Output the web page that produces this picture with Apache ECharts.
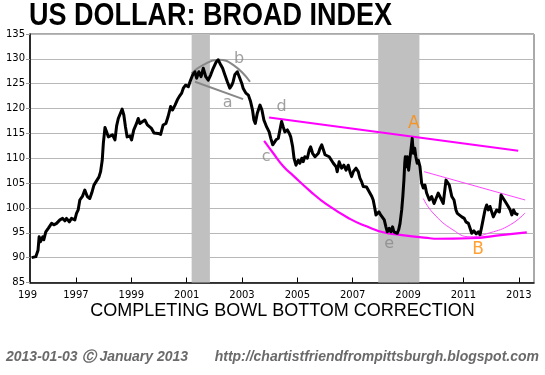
<!DOCTYPE html>
<html><head><meta charset="utf-8">
<script src="https://cdn.jsdelivr.net/npm/echarts@6/dist/echarts.min.js"></script>
<style>html,body{margin:0;padding:0;background:#fff}#c{width:545px;height:375px}</style>
</head><body><div id="c"></div>
<script>
// ---- Data ----
const years = [1995.40,1995.55,1995.63,1995.67,1995.72,1995.80,1995.84,1995.91,1996.00,1996.12,1996.20,1996.30,1996.42,1996.52,1996.60,1996.66,1996.76,1996.84,1996.90,1996.96,
1997.02,1997.08,1997.14,1997.24,1997.32,1997.41,1997.50,1997.57,1997.65,1997.75,1997.83,1997.89,1997.95,1997.99,1998.05,1998.11,1998.17,1998.23,1998.32,1998.41,
1998.47,1998.53,1998.59,1998.67,1998.73,1998.79,1998.85,1998.95,1999.01,1999.09,1999.19,1999.25,1999.31,1999.41,1999.49,1999.58,1999.65,1999.73,1999.82,1999.85,
1999.97,2000.06,2000.15,2000.25,2000.33,2000.42,2000.49,2000.58,2000.66,2000.73,2000.82,2000.88,2000.96,2001.06,2001.14,2001.22,2001.30,2001.36,2001.44,2001.52,
2001.60,2001.69,2001.78,2001.87,2001.96,2002.06,2002.14,2002.23,2002.30,2002.38,2002.47,2002.56,2002.63,2002.68,2002.74,2002.83,2002.90,2002.99,2003.04,2003.14,
2003.23,2003.31,2003.38,2003.43,2003.48,2003.55,2003.65,2003.72,2003.79,2003.89,2003.98,2004.04,2004.11,2004.15,2004.23,2004.31,2004.37,2004.43,2004.49,2004.55,
2004.64,2004.71,2004.76,2004.83,2004.88,2004.95,2005.03,2005.09,2005.16,2005.21,2005.27,2005.36,2005.43,2005.48,2005.55,2005.64,2005.70,2005.76,2005.82,2005.88,
2005.94,2006.00,2006.06,2006.15,2006.21,2006.30,2006.40,2006.44,2006.51,2006.60,2006.68,2006.76,2006.84,2006.90,2006.96,2007.02,2007.12,2007.20,2007.26,2007.32,
2007.38,2007.44,2007.50,2007.56,2007.62,2007.69,2007.74,2007.80,2007.84,2007.89,2007.95,2008.01,2008.08,2008.14,2008.20,2008.25,2008.32,2008.38,2008.44,2008.49,
2008.56,2008.61,2008.66,2008.71,2008.77,2008.81,2008.85,2008.88,2008.90,2008.95,2008.97,2009.02,2009.07,2009.13,2009.15,2009.19,2009.24,2009.28,2009.33,2009.37,
2009.43,2009.49,2009.55,2009.61,2009.67,2009.77,2009.85,2009.94,2010.01,2010.09,2010.15,2010.21,2010.27,2010.37,2010.44,2010.49,2010.58,2010.66,2010.73,2010.78,
2010.85,2010.94,2011.03,2011.09,2011.18,2011.24,2011.30,2011.38,2011.46,2011.54,2011.60,2011.66,2011.72,2011.78,2011.84,2011.90,2011.96,2012.02,2012.08,2012.14,
2012.20,2012.30,2012.36,2012.42,2012.51,2012.57,2012.62,2012.69,2012.75,2012.81,2012.87,2012.93,2012.98];
const indexValues = [90.0,90.2,91.5,94.2,93.2,94.2,93.6,95.2,95.9,96.9,96.6,96.9,97.6,97.9,97.4,97.9,97.2,97.9,98.2,97.6,
98.9,99.6,101.6,102.4,103.6,102.3,101.9,103.0,104.6,105.5,106.2,107.3,109.6,113.0,116.2,115.3,114.3,114.1,114.7,113.7,
116.5,118.0,118.4,119.9,118.7,116.3,114.3,114.5,113.7,115.7,117.0,118.0,117.0,117.4,117.7,116.7,117.0,116.0,115.1,115.3,
115.0,114.8,116.7,117.0,118.4,120.4,119.7,120.7,121.7,122.4,123.1,124.1,124.7,124.4,125.7,126.8,127.4,126.1,127.4,126.4,
128.1,126.4,125.7,126.8,128.1,129.3,129.8,128.8,128.1,126.8,125.4,124.1,124.7,125.4,126.8,127.4,126.4,125.1,124.1,123.1,
122.7,121.4,119.7,117.7,117.0,119.0,120.7,119.7,117.7,116.3,115.3,114.0,112.7,112.3,113.7,114.0,115.7,117.4,116.3,115.3,
115.7,115.0,114.3,112.3,110.0,108.6,109.6,109.0,110.0,109.3,110.3,110.0,111.7,112.3,111.0,110.3,110.0,111.0,112.0,112.7,
111.7,110.7,111.0,110.3,110.3,109.0,108.3,107.3,109.3,108.0,108.6,107.6,108.6,107.3,106.3,107.3,108.0,107.3,106.0,105.3,
104.3,104.0,104.2,103.6,103.0,102.3,101.6,99.9,98.6,98.2,99.2,98.6,98.2,97.6,96.2,95.2,95.9,95.2,96.2,95.2,
95.4,94.9,95.6,96.9,99.6,102.3,105.6,109.0,110.3,108.3,110.3,107.6,110.0,113.0,114.0,111.0,112.0,110.3,109.0,109.6,
108.3,105.0,104.0,104.6,103.0,101.6,102.3,100.9,101.3,103.0,102.3,102.6,100.9,105.6,105.8,104.6,102.3,101.6,99.6,98.9,
98.9,98.2,97.9,97.2,96.9,95.9,94.9,95.4,94.8,95.2,94.6,96.2,97.9,99.6,100.6,99.6,100.3,100.6,98.2,98.6,
99.6,99.2,102.6,102.3,101.3,100.9,100.3,99.6,98.6,99.6,98.9,99.0,98.6];

const recessionStart = [2001.18, 2007.92];
const recessionEnd   = [2001.84, 2009.41];

const xTickYears = [1997, 1999, 2001, 2003, 2005, 2007, 2009, 2011, 2013];

// annotation lines (data coordinates)
const bigTopLineX = [2003.98, 2012.98];
const bigTopLineY = [118.2, 111.5];
const bigBowlX = [2003.80, 2004.13, 2004.49, 2004.85, 2005.46, 2006.06, 2006.90, 2007.50, 2008.10, 2008.71, 2009.79, 2010.03, 2011.24, 2012.43, 2013.29];
const bigBowlY = [113.5, 111.0, 108.4, 106.5, 103.4, 100.7, 97.8, 96.3, 95.1, 94.6, 93.9, 93.8, 93.9, 94.6, 95.1];
const smallTopLineX = [2009.58, 2013.23];
const smallTopLineY = [107.3, 101.6];
const smallBowlX = [2009.55, 2009.90, 2010.62, 2011.24, 2011.96, 2012.69, 2013.23];
const smallBowlY = [101.9, 99.0, 95.6, 94.2, 95.0, 96.6, 99.0];
const arcBX = [2001.18, 2001.60, 2002.14, 2002.68, 2003.29];
const arcBY = [127.1, 128.8, 129.8, 128.8, 125.4];
const lineAX = [2001.30, 2003.04];
const lineAY = [125.4, 121.9];

const grayLabelText = ['a', 'b', 'c', 'd', 'e'];
const grayLabelX = [2002.48, 2002.89, 2003.87, 2004.43, 2008.32];
const grayLabelY = [121.1, 130.1, 110.2, 120.3, 92.7];
const orangeLabelText = ['A', 'B'];
const orangeLabelX = [2009.21, 2011.53];
const orangeLabelY = [116.9, 91.7];

// ---- build ----
const zip = (xs, ys) => xs.map((x, i) => [x, ys[i]]);
const lineSeries = (xs, ys, color, width, smooth) => ({
  type: 'line', data: zip(xs, ys), showSymbol: false, smooth: smooth, silent: true, z: 4,
  lineStyle: { color: color, width: width }, animation: false
});
const labelSeries = (texts, xs, ys, color, size) => ({
  type: 'scatter', symbolSize: 0, silent: true, z: 6, animation: false,
  data: texts.map((t, i) => ({ name: t, value: [xs[i], ys[i]] })),
  label: { show: true, position: 'inside', formatter: p => p.name, color: color,
           fontFamily: 'DejaVu Sans', fontSize: size }
});

const chart = echarts.init(document.getElementById('c'), null, { renderer: 'canvas' });
chart.setOption({
  animation: false,
  backgroundColor: '#ffffff',
  grid: { left: 30, right: 11, top: 34, bottom: 92.5, show: true, borderColor: '#555', borderWidth: 1 },
  xAxis: {
    type: 'value', min: 1995.34, max: 2013.55,
    axisLine: { lineStyle: { color: '#000', width: 1.5 } },
    axisTick: { show: true, inside: true, length: 5, customValues: xTickYears, lineStyle: { color: '#000' } },
    axisLabel: { customValues: xTickYears, margin: 8, fontFamily: 'DejaVu Sans', fontSize: 10, color: '#000',
                 formatter: v => String(Math.round(v)) },
    splitLine: { show: false }
  },
  yAxis: {
    type: 'value', min: 85, max: 135, interval: 5,
    axisLine: { show: true, lineStyle: { color: '#000', width: 1.5 } },
    axisTick: { show: true, length: 4, lineStyle: { color: '#999' } },
    axisLabel: { margin: 5, fontFamily: 'DejaVu Sans', fontSize: 10, color: '#000' },
    splitLine: { show: true, lineStyle: { color: '#b8b8b8', width: 1 } }
  },
  series: [
    {
      type: 'line', data: [], silent: true, z: 1,
      markArea: { silent: true, itemStyle: { color: '#c0c0c0', opacity: 1 },
        data: recessionStart.map((s, i) => [{ xAxis: s }, { xAxis: recessionEnd[i] }]) }
    },
    lineSeries(arcBX, arcBY, '#888888', 2, true),
    lineSeries(lineAX, lineAY, '#888888', 2, false),
    lineSeries(bigTopLineX, bigTopLineY, '#ff00ff', 2, false),
    lineSeries(bigBowlX, bigBowlY, '#ff00ff', 2.2, true),
    lineSeries(smallTopLineX, smallTopLineY, '#ff44ff', 1, false),
    lineSeries(smallBowlX, smallBowlY, '#ff44ff', 1, true),
    {
      type: 'line', data: zip(years, indexValues), showSymbol: false, silent: true, z: 5,
      lineStyle: { color: '#000', width: 3, join: 'round' }
    },
    labelSeries(grayLabelText, grayLabelX, grayLabelY, '#888888', 16),
    labelSeries(orangeLabelText, orangeLabelX, orangeLabelY, '#ff8a00', 17)
  ],
  graphic: [
    { type: 'text', x: 29, y: 16.5, scaleX: 0.871, silent: true,
      style: { text: 'US DOLLAR: BROAD INDEX', x: 0, y: 0, align: 'left', verticalAlign: 'middle',
               font: 'bold 31px "Liberation Sans", Arial, sans-serif', fill: '#000' } },
    { type: 'text', x: 18, y: 295, silent: true,
      style: { text: '199', x: 0, y: 0, align: 'left', verticalAlign: 'middle',
               font: '10px "DejaVu Sans"', fill: '#000' } },
    { type: 'text', x: 282.5, y: 311, silent: true,
      style: { text: 'COMPLETING BOWL BOTTOM CORRECTION', x: 0, y: 0, align: 'center', verticalAlign: 'middle',
               font: '18px "Liberation Sans", Arial, sans-serif', fill: '#000' } },
    { type: 'text', x: 6, y: 357, silent: true,
      style: { text: '2013-01-03 \u24b8 January 2013', x: 0, y: 0, align: 'left', verticalAlign: 'middle',
               font: 'italic bold 14px "Liberation Sans", Arial, sans-serif', fill: '#6a6a6a' } },
    { type: 'text', x: 539, y: 357, silent: true,
      style: { text: 'http://chartistfriendfrompittsburgh.blogspot.com', x: 0, y: 0, align: 'right', verticalAlign: 'middle',
               font: 'italic bold 14px "Liberation Sans", Arial, sans-serif', fill: '#6a6a6a' } }
  ]
});
</script></body></html>
